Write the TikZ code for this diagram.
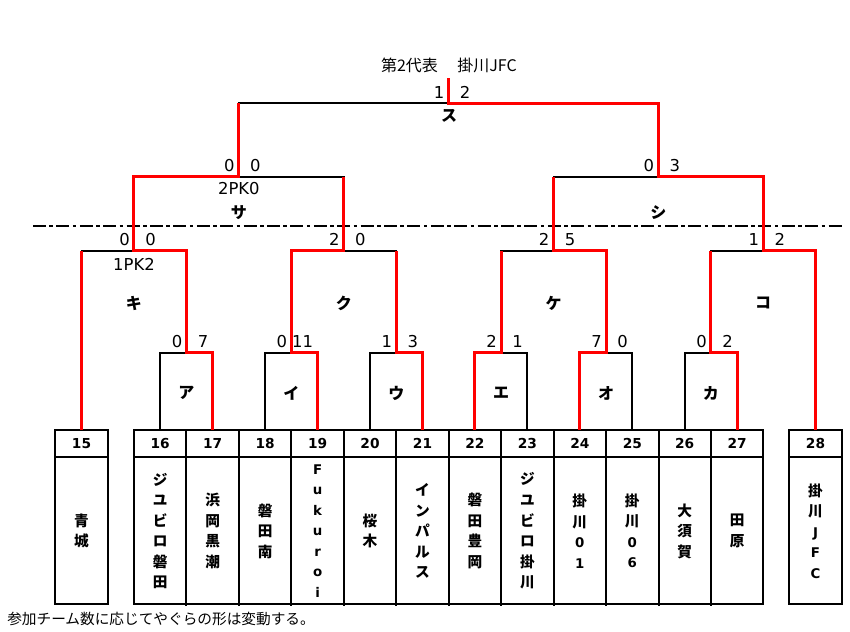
\documentclass[tikz,border=0pt]{standalone}
\usepackage{fontspec}
\setmainfont{DejaVu Sans}
\newfontfamily\cjk{Noto Sans CJK JP}
\usetikzlibrary{calc}
\newcommand\lat[1]{{\rmfamily\bfseries\fontsize{10}{15.4}\selectfont #1}}
\begin{document}
\begin{tikzpicture}[x=0.75pt,y=-0.75pt,
  blk/.style={line width=1.5pt, black},
  rd/.style={line width=2.25pt, red},
  boxl/.style={line width=1.5pt, black},
  dashdot/.style={line width=1.5pt, black, dash pattern=on 9.75pt off 2.6pt on 2.6pt off 2.6pt},
  score/.style={font=\fontsize{12.3}{14}\selectfont, inner sep=0pt, anchor=base east},
  pk/.style={font=\fontsize{12.3}{14}\selectfont, inner sep=0pt, anchor=base},
  lab/.style={font=\cjk\bfseries\fontsize{12}{14}\selectfont, inner sep=0pt},
  num/.style={font=\bfseries\fontsize{10.3}{12}\selectfont, inner sep=0pt},
  tname/.style={font=\cjk\bfseries\fontsize{11}{15.4}\selectfont, align=center, inner sep=0pt},
  ttl/.style={font=\cjk\fontsize{12}{14}\selectfont, inner sep=0pt},
]
\fill[white] (0,0) rectangle (850,632);
\useasboundingbox (0,0) rectangle (850,632);

% team anchor points (tops of boxes)
\coordinate (t15) at (81.5,430);
\coordinate (t16) at (160.2,430);
\coordinate (t17) at (212.7,430);
\coordinate (t18) at (265.1,430);
\coordinate (t19) at (317.6,430);
\coordinate (t20) at (370.0,430);
\coordinate (t21) at (422.5,430);
\coordinate (t22) at (474.9,430);
\coordinate (t23) at (527.4,430);
\coordinate (t24) at (579.8,430);
\coordinate (t25) at (632.3,430);
\coordinate (t26) at (684.7,430);
\coordinate (t27) at (737.2,430);
\coordinate (t28) at (815.5,430);
% match points
\coordinate (mA) at (186.45,352.7);
\coordinate (mI) at (291.35,352.7);
\coordinate (mU) at (396.25,352.7);
\coordinate (mE) at (501.15,352.7);
\coordinate (mO) at (606.05,352.7);
\coordinate (mKa) at (710.95,352.7);
\coordinate (mKi) at (133.97,250.7);
\coordinate (mKu) at (343.8,250.7);
\coordinate (mKe) at (553.6,250.7);
\coordinate (mKo) at (763.2,250.7);
\coordinate (mSa) at (238.9,176.7);
\coordinate (mShi) at (658.4,176.7);
\coordinate (mSu) at (448.65,103.3);
\coordinate (top) at (448.65,78.3);

% dash-dot divider
\coordinate (dl) at (33,225.7);
\coordinate (dr) at (842,225.7);
\draw[dashdot] (dl) -- (dr);

% boxes
\draw[boxl] (55,430) rectangle (108,604);
\draw[boxl] (55,457) -- (108,457);
\draw[boxl] (134,430) rectangle (763.4,604);
\draw[boxl] (134,457) -- (763.4,457);
\foreach \k in {1,...,11} {
  \draw[boxl] ({134+52.45*\k},430) -- ({134+52.45*\k},606);
}
\draw[boxl] (789,430) rectangle (842,604);
\draw[boxl] (789,457) -- (842,457);

% black (losing) lines
\draw[blk] (t16) |- (mA);
\draw[blk] (t18) |- (mI);
\draw[blk] (t20) |- (mU);
\draw[blk] (t23) |- (mE);
\draw[blk] (t25) |- (mO);
\draw[blk] (t26) |- (mKa);
\draw[blk] (t15) |- (mKi);
\draw[blk] (mU) |- (mKu);
\draw[blk] (mE) |- (mKe);
\draw[blk] (mKa) |- (mKo);
\draw[blk] (mKu) |- (mSa);
\draw[blk] (mKe) |- (mShi);
\draw[blk] (mSa) |- (mSu);

% red (advancing) lines
\draw[rd] (t17) |- (mA) |- (mKi) |- (mSa) -- (mSa |- mSu);
\draw[rd] (t19) |- (mI) |- (mKu) -- (mKu |- mSa);
\draw[rd] (t21) |- (mU) -- (mU |- mKu);
\draw[rd] (t22) |- (mE) -- (mE |- mKe);
\draw[rd] (t24) |- (mO) |- (mKe) -- (mKe |- mShi);
\draw[rd] (t27) |- (mKa) -- (mKa |- mKo);
\draw[rd] (t15) -- (t15 |- mKi);
\draw[rd] (t28) |- (mKo) |- (mShi) |- (mSu) -- (top);

% scores
\node[score] (sAl) at ($(mA)+(-4,-5)$) {0};
\node[score] (sAr) at ($(mA)+(22,-5)$) {7};
\node[score] (sIl) at ($(mI)+(-4,-5)$) {0};
\node[score] (sIr) at ($(mI)+(22,-5)$) {11};
\node[score] (sUl) at ($(mU)+(-4,-5)$) {1};
\node[score] (sUr) at ($(mU)+(22,-5)$) {3};
\node[score] (sEl) at ($(mE)+(-4,-5)$) {2};
\node[score] (sEr) at ($(mE)+(22,-5)$) {1};
\node[score] (sOl) at ($(mO)+(-4,-5)$) {7};
\node[score] (sOr) at ($(mO)+(22,-5)$) {0};
\node[score] (sKal) at ($(mKa)+(-4,-5)$) {0};
\node[score] (sKar) at ($(mKa)+(22,-5)$) {2};
\node[score] (sKil) at ($(mKi)+(-4,-5)$) {0};
\node[score] (sKir) at ($(mKi)+(22,-5)$) {0};
\node[score] (sKul) at ($(mKu)+(-4,-5)$) {2};
\node[score] (sKur) at ($(mKu)+(22,-5)$) {0};
\node[score] (sKel) at ($(mKe)+(-4,-5)$) {2};
\node[score] (sKer) at ($(mKe)+(22,-5)$) {5};
\node[score] (sKol) at ($(mKo)+(-4,-5)$) {1};
\node[score] (sKor) at ($(mKo)+(22,-5)$) {2};
\node[score] (sSal) at ($(mSa)+(-4,-5)$) {0};
\node[score] (sSar) at ($(mSa)+(22,-5)$) {0};
\node[score] (sShil) at ($(mShi)+(-4,-5)$) {0};
\node[score] (sShir) at ($(mShi)+(22,-5)$) {3};
\node[score] (sSul) at ($(mSu)+(-4,-5)$) {1};
\node[score] (sSur) at ($(mSu)+(22,-5)$) {2};
\node[pk] (pkSa) at (238.9,194.5) {2PK0};
\node[pk] (pkKi) at (133.97,270.5) {1PK2};

% match labels
\node[lab] (lSu) at (449,116) {ス};
\node[lab] (lSa) at (238.9,213) {サ};
\node[lab] (lShi) at (658.4,213) {シ};
\node[lab] (lKi) at (133.97,303) {キ};
\node[lab] (lKu) at (343.8,303) {ク};
\node[lab] (lKe) at (553.6,303) {ケ};
\node[lab] (lKo) at (763.2,303) {コ};
\node[lab] (lA) at (186.45,393) {ア};
\node[lab] (lI) at (291.35,393) {イ};
\node[lab] (lU) at (396.25,393) {ウ};
\node[lab] (lE) at (501.15,393) {エ};
\node[lab] (lO) at (606.05,393) {オ};
\node[lab] (lKa) at (710.95,393) {カ};

% title
\node[ttl] (title1) at (409.5,65) {第2代表};
\node[ttl] (title2) at (487,65) {掛川JFC};

% team numbers
\node[num] (n15) at (81.5,443.5) {15};
\node[num] (n16) at (160.2,443.5) {16};
\node[num] (n17) at (212.7,443.5) {17};
\node[num] (n18) at (265.1,443.5) {18};
\node[num] (n19) at (317.6,443.5) {19};
\node[num] (n20) at (370.0,443.5) {20};
\node[num] (n21) at (422.5,443.5) {21};
\node[num] (n22) at (474.9,443.5) {22};
\node[num] (n23) at (527.4,443.5) {23};
\node[num] (n24) at (579.8,443.5) {24};
\node[num] (n25) at (632.3,443.5) {25};
\node[num] (n26) at (684.7,443.5) {26};
\node[num] (n27) at (737.2,443.5) {27};
\node[num] (n28) at (815.5,443.5) {28};

% team names
\node[tname] (w15) at (81.5,531) {青\\城};
\node[tname] (w16) at (160.2,531) {ジ\\ユ\\ビ\\ロ\\磐\\田};
\node[tname] (w17) at (212.7,531) {浜\\岡\\黒\\潮};
\node[tname] (w18) at (265.1,531) {磐\\田\\南};
\node[tname] (w19) at (317.6,531) {\lat{F}\\\lat{u}\\\lat{k}\\\lat{u}\\\lat{r}\\\lat{o}\\\lat{i}};
\node[tname] (w20) at (370.0,531) {桜\\木};
\node[tname] (w21) at (422.5,531) {イ\\ン\\パ\\ル\\ス};
\node[tname] (w22) at (474.9,531) {磐\\田\\豊\\岡};
\node[tname] (w23) at (527.4,531) {ジ\\ユ\\ビ\\ロ\\掛\\川};
\node[tname] (w24) at (579.8,531) {掛\\川\\\lat{0}\\\lat{1}};
\node[tname] (w25) at (632.3,531) {掛\\川\\\lat{0}\\\lat{6}};
\node[tname] (w26) at (684.7,531) {大\\須\\賀};
\node[tname] (w27) at (737.2,531) {田\\原};
\node[tname] (w28) at (815.5,531) {掛\\川\\\lat{J}\\\lat{F}\\\lat{C}};

% footnote
\node[font=\cjk\fontsize{11}{13}\selectfont, anchor=west, inner sep=0pt] (note) at (7,619) {参加チーム数に応じてやぐらの形は変動する。};
\end{tikzpicture}
\end{document}
